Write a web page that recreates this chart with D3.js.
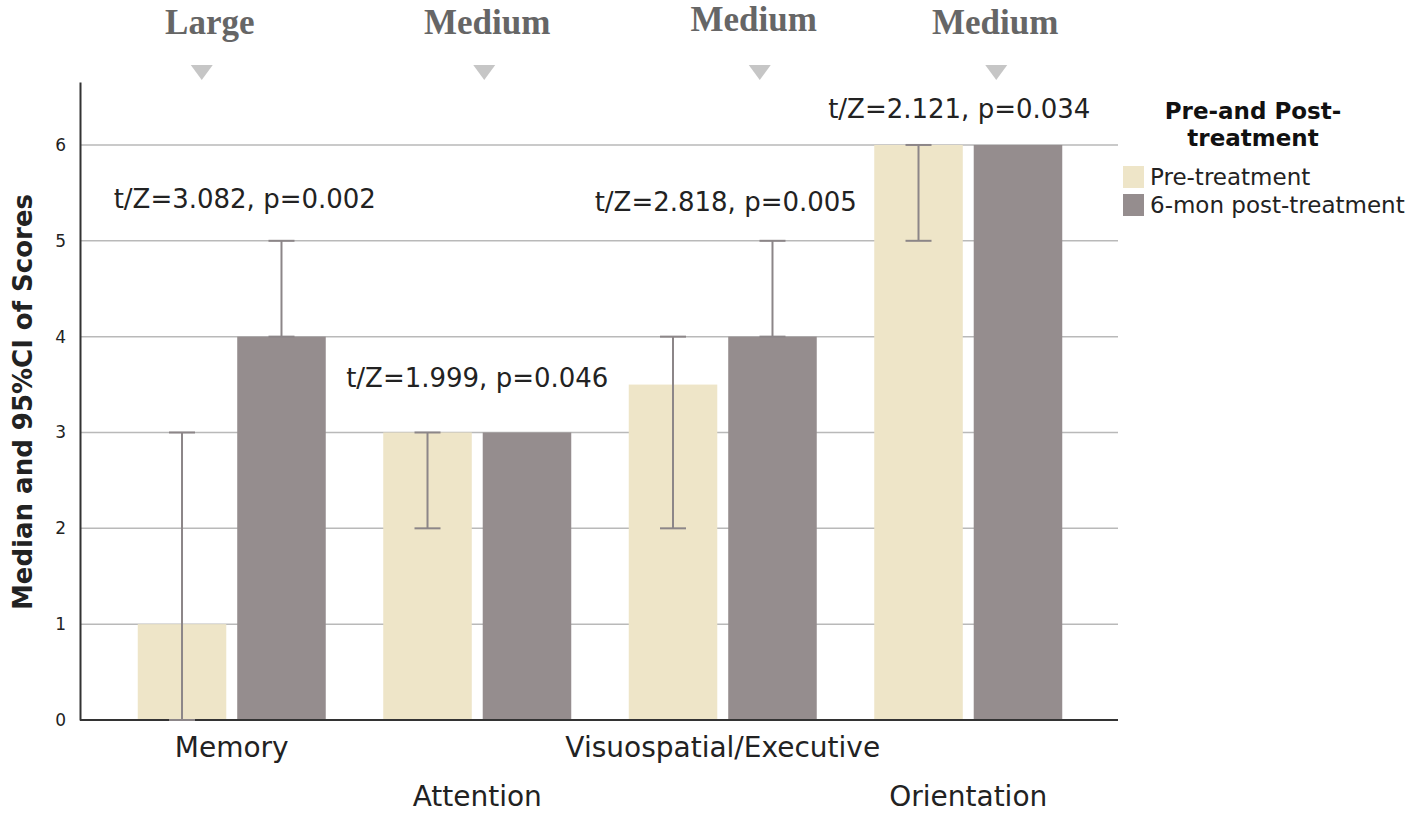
<!doctype html>
<html lang="en">
<head>
<meta charset="utf-8">
<title>Median and 95%CI of scores</title>
<script src="https://cdn.jsdelivr.net/npm/d3@7"></script>
<style>
  body { margin: 0; background: #fff; }
  svg { display: block; }
</style>
</head>
<body>
<svg></svg>
<script>
// data
var categories = ["Memory", "Attention", "Visuospatial/Executive", "Orientation"];
var series = ["Pre-treatment", "6-mon post-treatment"];
var preMedian = [1, 3, 3.5, 6];
var postMedian = [4, 3, 4, 6];
var preLow = [0, 2, 2, 5];
var preHigh = [3, 3, 4, 6];
var postLow = [4, 3, 4, 6];
var postHigh = [5, 3, 5, 6];
var effectSizes = ["Large", "Medium", "Medium", "Medium"];
var stats = ["t/Z=3.082, p=0.002", "t/Z=1.999, p=0.046", "t/Z=2.818, p=0.005", "t/Z=2.121, p=0.034"];
var yTicks = [0, 1, 2, 3, 4, 5, 6];

var width = 1417, height = 814;
var plotLeft = 80, plotRight = 1118, plotTop = 82, plotBottom = 720;
var colors = ["#eee5c8", "#958d8e"];

var svg = d3.select("svg").attr("width", width).attr("height", height);

var x = d3.scaleBand().domain(categories).range([109, 1091]).paddingInner(0).paddingOuter(0);
var xs = d3.scaleBand().domain(series).range([-94, 94]).paddingInner(0.11).paddingOuter(0);
var y = d3.scaleLinear().domain([0, 6.657]).range([plotBottom, plotTop]);

// gridlines
svg.append("g").selectAll("line")
    .data(yTicks.filter(function (d) { return d > 0; }))
    .enter().append("line")
    .attr("x1", plotLeft).attr("x2", plotRight)
    .attr("y1", function (d) { return y(d); })
    .attr("y2", function (d) { return y(d); })
    .attr("stroke", "#b9b9b9").attr("stroke-width", 1.5);

// y axis
var yAxis = svg.append("g")
    .attr("transform", "translate(" + plotLeft + ",0)")
    .call(d3.axisLeft(y).tickValues(yTicks).tickFormat(d3.format("d")).tickSize(0).tickPadding(14));
yAxis.select(".domain").attr("stroke", "#333").attr("stroke-width", 2);
yAxis.selectAll("text").attr("font-family", "DejaVu Sans, sans-serif")
    .attr("font-size", "17px").attr("fill", "#222");

// bars
var rows = categories.map(function (c, i) {
    return [
        { cat: c, s: series[0], v: preMedian[i], lo: preLow[i], hi: preHigh[i], k: 0 },
        { cat: c, s: series[1], v: postMedian[i], lo: postLow[i], hi: postHigh[i], k: 1 }
    ];
});
var flat = d3.merge(rows);

svg.append("g").selectAll("rect")
    .data(flat).enter().append("rect")
    .attr("x", function (d) { return x(d.cat) + x.bandwidth() / 2 + xs(d.s); })
    .attr("width", xs.bandwidth())
    .attr("y", function (d) { return y(d.v); })
    .attr("height", function (d) { return y(0) - y(d.v); })
    .attr("fill", function (d) { return colors[d.k]; });

// x axis line
svg.append("line")
    .attr("x1", plotLeft).attr("x2", plotRight)
    .attr("y1", plotBottom).attr("y2", plotBottom)
    .attr("stroke", "#333").attr("stroke-width", 2);

// error bars
var eb = flat.filter(function (d) { return d.hi > d.lo; });
var cx = function (d) { return x(d.cat) + x.bandwidth() / 2 + xs(d.s) + xs.bandwidth() / 2; };
var errG = svg.append("g").attr("stroke", "#8c8688").attr("stroke-width", 2);
errG.selectAll(".stem").data(eb).enter().append("line")
    .attr("x1", cx).attr("x2", cx)
    .attr("y1", function (d) { return y(d.lo); })
    .attr("y2", function (d) { return y(d.hi); });
errG.selectAll(".capHi").data(eb).enter().append("line")
    .attr("x1", function (d) { return cx(d) - 13; }).attr("x2", function (d) { return cx(d) + 13; })
    .attr("y1", function (d) { return y(d.hi); }).attr("y2", function (d) { return y(d.hi); });
errG.selectAll(".capLo").data(eb).enter().append("line")
    .attr("x1", function (d) { return cx(d) - 13; }).attr("x2", function (d) { return cx(d) + 13; })
    .attr("y1", function (d) { return y(d.lo); }).attr("y2", function (d) { return y(d.lo); });

// category labels (staggered)
svg.append("g").selectAll("text")
    .data(categories).enter().append("text")
    .attr("x", function (d) { return x(d) + x.bandwidth() / 2; })
    .attr("y", function (d, i) { return i % 2 === 0 ? 757 : 806; })
    .attr("text-anchor", "middle")
    .attr("font-family", "DejaVu Sans, sans-serif")
    .attr("font-size", "28px").attr("fill", "#222")
    .text(function (d) { return d; });

// y axis title
svg.append("text")
    .attr("transform", "translate(32,402) rotate(-90)")
    .attr("text-anchor", "middle")
    .attr("font-family", "DejaVu Sans, sans-serif")
    .attr("font-weight", "bold")
    .attr("font-size", "26px").attr("fill", "#222")
    .text("Median and 95%CI of Scores");

// test statistics
var statY = [5.45, 3.58, 5.42, 6.39];
svg.append("g").selectAll("text")
    .data(stats).enter().append("text")
    .attr("x", function (d, i) { return x(categories[i]) + x.bandwidth() / 2 + [13, 0, 3, -9][i]; })
    .attr("y", function (d, i) { return y(statY[i]) + 10; })
    .attr("text-anchor", "middle")
    .attr("font-family", "DejaVu Sans, sans-serif")
    .attr("font-size", "26px").attr("fill", "#222")
    .text(function (d) { return d; });

// effect size labels and markers
var effX = [-22, 10, 31, 27];
var triX = [-30, 7, 37, 28];
svg.append("g").selectAll("text")
    .data(effectSizes).enter().append("text")
    .attr("x", function (d, i) { return x(categories[i]) + x.bandwidth() / 2 + effX[i]; })
    .attr("y", function (d, i) { return i === 2 ? 31 : 34; })
    .attr("text-anchor", "middle")
    .attr("font-family", "Liberation Serif, Times New Roman, serif")
    .attr("font-weight", "bold")
    .attr("font-size", "35px").attr("fill", "#666")
    .text(function (d) { return d; });
svg.append("g").selectAll("path")
    .data(effectSizes).enter().append("path")
    .attr("transform", function (d, i) {
        return "translate(" + (x(categories[i]) + x.bandwidth() / 2 + triX[i]) + ",65)";
    })
    .attr("d", "M-11,0 L11,0 L0,15 Z")
    .attr("fill", "#c6c6c6");

// legend
var lg = svg.append("g");
lg.append("text").attr("x", 1253).attr("y", 119).attr("text-anchor", "middle")
    .attr("font-family", "DejaVu Sans, sans-serif").attr("font-weight", "bold")
    .attr("font-size", "23px").attr("fill", "#111").text("Pre-and Post-");
lg.append("text").attr("x", 1253).attr("y", 146).attr("text-anchor", "middle")
    .attr("font-family", "DejaVu Sans, sans-serif").attr("font-weight", "bold")
    .attr("font-size", "23px").attr("fill", "#111").text("treatment");
var items = lg.selectAll(".item").data(series).enter().append("g")
    .attr("transform", function (d, i) { return "translate(1123," + (166 + i * 28) + ")"; });
items.append("rect").attr("width", 21).attr("height", 22)
    .attr("fill", function (d, i) { return colors[i]; });
items.append("text").attr("x", 27).attr("y", 19)
    .attr("font-family", "DejaVu Sans, sans-serif")
    .attr("font-size", "23px").attr("fill", "#222")
    .text(function (d) { return d; });
</script>
</body>
</html>
